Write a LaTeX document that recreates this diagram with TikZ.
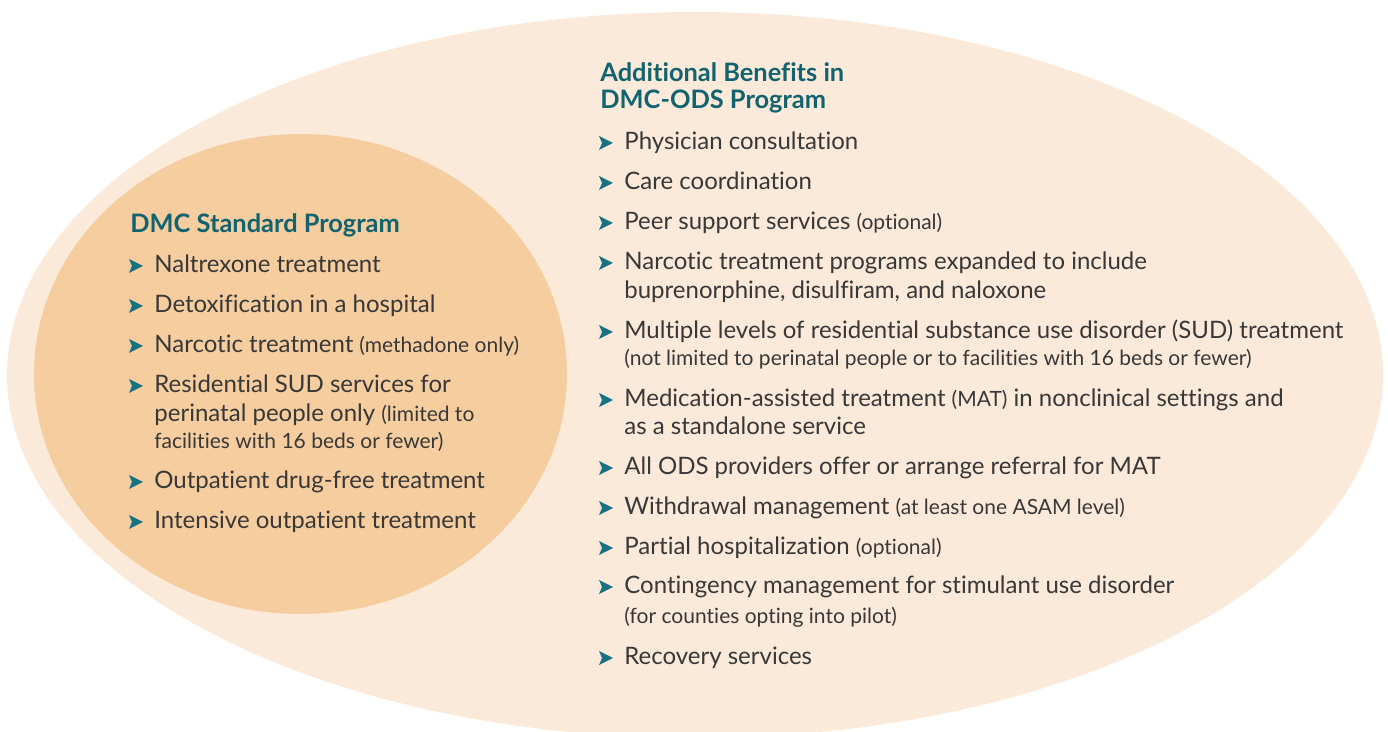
\documentclass[tikz,border=0pt]{standalone}
\usepackage{fontspec}
\setmainfont{Lato}[RawFeature={-liga;-calt;-dlig;-clig}]
\usetikzlibrary{positioning}
\definecolor{outerpeach}{HTML}{FBEAD9}
\definecolor{innerpeach}{HTML}{F5CD9F}
\definecolor{headteal}{HTML}{10636F}
\definecolor{bullteal}{HTML}{177383}
\definecolor{bodygray}{HTML}{383838}
\newcommand{\sm}[1]{{\fontsize{10.5}{13}\selectfont #1}}

\begin{document}
\begin{tikzpicture}[x=0.5pt,y=-0.5pt,
	head/.style={anchor=base west, inner sep=0pt, text=headteal,
		font=\fontsize{12.7}{13.5}\selectfont\bfseries},
	item/.style={anchor=base west, inner sep=0pt, text=bodygray,
		font=\fontsize{12}{14.5}\selectfont},
	bul/.pic={\fill[bullteal] (-25,0)--(-11,-7)--(-25,-14)--(-22,-7)--cycle;}]
	\useasboundingbox (0,0) rectangle (1388,732);
	\clip (0,0) rectangle (1388,732);
	% the two programs
	\fill[outerpeach] (695,375) ellipse [x radius=344pt, y radius=181.5pt];
	\fill[innerpeach] (300.5,374) ellipse [x radius=133.25pt, y radius=120pt];
	% DMC standard
	\node[head] (std) at (130,233) {DMC Standard Program};
	\node[item] (s1) at (154,273) {Naltrexone treatment};
	\node[item] (s2) at (154,313) {Detoxification in a hospital};
	\node[item] (s3) at (154,353) {Narcotic treatment \sm{(methadone only)}};
	\node[item] (s4) at (154,393) {Residential SUD services for};
	\node[item] (s4b) at (154,422) {perinatal people only \sm{(limited to}};
	\node[item] (s4c) at (154,449) {\sm{facilities with 16 beds or fewer)}};
	\node[item] (s5) at (154,489) {Outpatient drug-free treatment};
	\node[item] (s6) at (154,529) {Intensive outpatient treatment};
	% DMC-ODS extras
	\node[head] (ods) at (600,82) {Additional Benefits in};
	\node[head] (ods2) at (600,109) {DMC-ODS Program};
	\node[item] (o1) at (624,150) {Physician consultation};
	\node[item] (o2) at (624,190) {Care coordination};
	\node[item] (o3) at (624,230) {Peer support services \sm{(optional)}};
	\node[item] (o4) at (624,270) {Narcotic treatment programs expanded to include};
	\node[item] (o4b) at (624,299) {buprenorphine, disulfiram, and naloxone};
	\node[item] (o5) at (624,339) {Multiple levels of residential substance use disorder (SUD) treatment};
	\node[item] (o5b) at (624,366) {\sm{(not limited to perinatal people or to facilities with 16 beds or fewer)}};
	\node[item] (o6) at (624,407) {Medication-assisted treatment \sm{(MAT)} in nonclinical settings and};
	\node[item] (o6b) at (624,435) {as a standalone service};
	\node[item] (o7) at (624,475) {All ODS providers offer or arrange referral for MAT};
	\node[item] (o8) at (624,515) {Withdrawal management \sm{(at least one ASAM level)}};
	\node[item] (o9) at (624,555) {Partial hospitalization \sm{(optional)}};
	\node[item] (o10) at (624,594) {Contingency management for stimulant use disorder};
	\node[item] (o10b) at (624,624) {\sm{(for counties opting into pilot)}};
	\node[item] (o11) at (624,665) {Recovery services};
	\foreach \n in {s1,s2,s3,s4,s5,s6,o1,o2,o3,o4,o5,o6,o7,o8,o9,o10,o11}
		\pic at (\n.base west) {bul};
\end{tikzpicture}
\end{document}
